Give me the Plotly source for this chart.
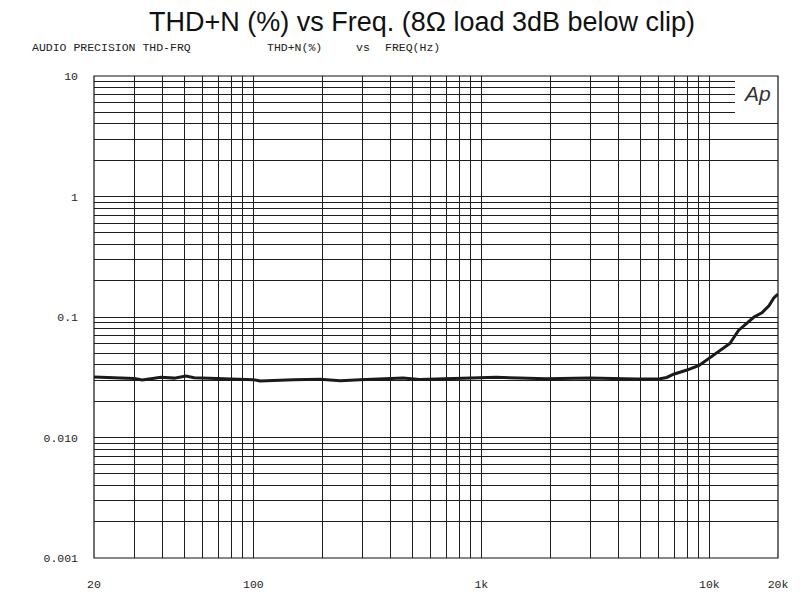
import plotly.graph_objects as go
import math

# ---- data ----
freq_hz = [20, 30, 32.6, 39.3, 45, 50.6, 55, 63, 77, 100, 107, 150, 196, 241, 294,
           410, 453, 536, 657, 803, 890, 1164, 1464, 1928, 2980, 3900, 4770, 6070,
           6500, 6970, 7980, 9010, 10170, 11300, 12300, 13420, 14620, 15700, 17000,
           18250, 19170, 20000]
thdn_pct = [0.0318, 0.0309, 0.0300, 0.0316, 0.0311, 0.0323, 0.0313, 0.0310, 0.0305,
            0.0302, 0.0294, 0.0302, 0.0304, 0.0296, 0.0301, 0.0307, 0.0311, 0.0303,
            0.0306, 0.0308, 0.0312, 0.0316, 0.0312, 0.0308, 0.0312, 0.0308, 0.0306,
            0.0307, 0.0315, 0.0335, 0.0363, 0.0397, 0.0468, 0.0531, 0.0602, 0.0773,
            0.0885, 0.1000, 0.1085, 0.1239, 0.1438, 0.1550]

x_tick_vals = [20, 100, 1000, 10000, 20000]
x_tick_text = ["20", "100", "1k", "10k", "20k"]
y_tick_vals = [0.001, 0.01, 0.1, 1, 10]
y_tick_text = ["0.001", "0.010", "0.1", "1", "10"]

title_text = "THD+N (%) vs Freq. (8Ω load 3dB below clip)"
header_left = "AUDIO PRECISION THD-FRQ"
header_mid = ["THD+N(%)", "vs", "FREQ(Hz)"]
logo_text = "Ap"

# ---- layout geometry (pixels) ----
W, H = 808, 596
L, R, T, B = 94, 778, 76, 558
PW, PH = R - L, B - T

def px_x(p):
    return (p - L) / PW

def px_y(p):
    return (B - p) / PH

# minor grid positions (every digit within each decade)
x_minor = [m * 10 ** e for e in range(1, 5) for m in range(1, 10)
           if 20 <= m * 10 ** e <= 20000 and m * 10 ** e not in x_tick_vals]
y_minor = [m * 10 ** e for e in range(-3, 1) for m in range(2, 10)]

grid_col = "#1e1e1e"
lab_font = dict(family="Liberation Mono, DejaVu Sans Mono, monospace", size=11.5, color="#222")

fig = go.Figure()
fig.add_trace(go.Scatter(x=freq_hz, y=thdn_pct, mode="lines",
                         line=dict(color="#1a1a1a", width=3),
                         hoverinfo="skip", showlegend=False))

fig.update_layout(
    width=W, height=H,
    margin=dict(l=L, r=W - R, t=T, b=H - B, autoexpand=False),
    paper_bgcolor="white", plot_bgcolor="white",
    showlegend=False,
    title=dict(text=title_text, x=422 / W, xanchor="center", xref="container",
               y=1 - 22 / H, yanchor="middle", yref="container",
               font=dict(family="Liberation Sans, Arial, sans-serif", size=27, color="#111")),
    xaxis=dict(type="log", range=[math.log10(20), math.log10(20000)],
               tickmode="array", tickvals=x_tick_vals, ticktext=x_tick_text,
               showgrid=True, gridcolor=grid_col, gridwidth=1,
               minor=dict(tickmode="array", tickvals=x_minor, showgrid=True,
                          gridcolor=grid_col, gridwidth=1, ticks=""),
               ticks="", showline=False, zeroline=False, automargin=False,
               ticklabelstandoff=17, tickfont=lab_font),
    yaxis=dict(type="log", range=[-3, 1],
               tickmode="array", tickvals=y_tick_vals, ticktext=y_tick_text,
               showgrid=True, gridcolor=grid_col, gridwidth=1,
               minor=dict(tickmode="array", tickvals=y_minor, showgrid=True,
                          gridcolor=grid_col, gridwidth=1, ticks=""),
               ticks="", showline=False, zeroline=False, automargin=False,
               ticklabelstandoff=15, tickfont=lab_font),
)

# white logo area in the top-right corner, then the plot border
fig.add_shape(type="rect", xref="paper", yref="paper",
              x0=px_x(735), x1=1, y0=px_y(114), y1=1,
              fillcolor="white", line=dict(width=0), layer="above")
fig.add_shape(type="rect", xref="paper", yref="paper", x0=0, x1=1, y0=0, y1=1,
              line=dict(color="#111", width=1.2), layer="above")

fig.add_annotation(text="<i>" + logo_text + "</i>", xref="paper", yref="paper",
                   x=px_x(757), y=px_y(94), xanchor="center", yanchor="middle",
                   showarrow=False,
                   font=dict(family="Liberation Sans, Arial, sans-serif", size=21, color="#333"))

fig.add_annotation(text=header_left, xref="paper", yref="paper",
                   x=px_x(30), y=px_y(47), xanchor="left", yanchor="middle",
                   showarrow=False, font=lab_font)
for txt, left in zip(header_mid, [265, 354, 383]):
    fig.add_annotation(text=txt, xref="paper", yref="paper",
                       x=px_x(left), y=px_y(47), xanchor="left", yanchor="middle",
                       showarrow=False, font=lab_font)

fig.write_html("out.html", config={"displayModeBar": False},
               post_script="document.body.style.margin='0';document.body.style.padding='0';")
